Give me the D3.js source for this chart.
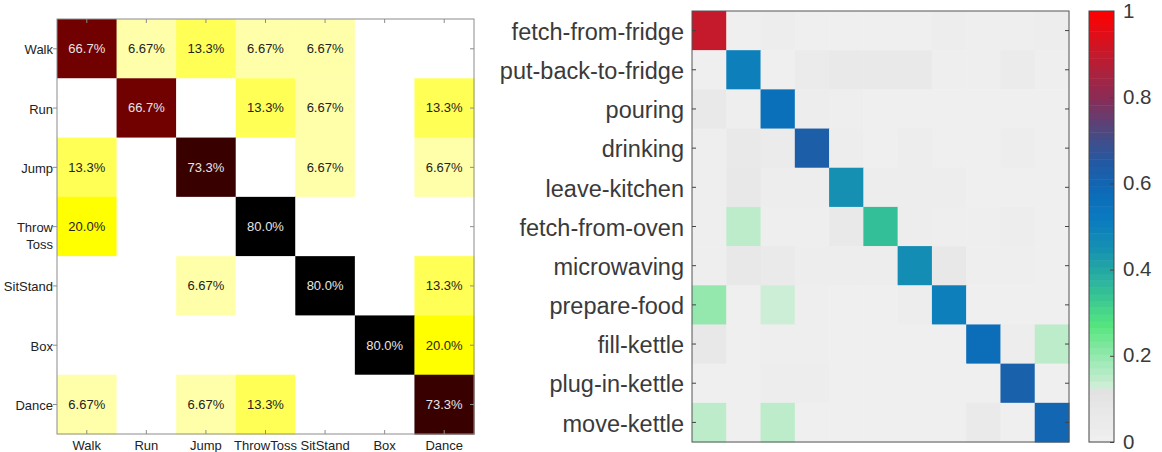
<!DOCTYPE html>
<html>
<head>
<meta charset="utf-8">
<script src="https://cdn.jsdelivr.net/npm/d3@7"></script>
<style>
  body { margin: 0; background: #fff; }
  svg { display: block; font-family: "Liberation Sans", Arial, Helvetica, sans-serif; }
</style>
</head>
<body>
<svg id="chart" width="1162" height="452"></svg>
<script>
// ---- left matrix data (percent) ----
const leftClasses = ['Walk', 'Run', 'Jump', 'ThrowToss', 'SitStand', 'Box', 'Dance'];
const leftRowLabels = [['Walk'], ['Run'], ['Jump'], ['Throw', 'Toss'], ['SitStand'], ['Box'], ['Dance']];
const leftWalk = [66.7, 6.67, 13.3, 6.67, 6.67, 0, 0];
const leftRun = [0, 66.7, 0, 13.3, 6.67, 0, 13.3];
const leftJump = [13.3, 0, 73.3, 0, 6.67, 0, 6.67];
const leftThrow = [20.0, 0, 0, 80.0, 0, 0, 0];
const leftSit = [0, 0, 6.67, 0, 80.0, 0, 13.3];
const leftBox = [0, 0, 0, 0, 0, 80.0, 20.0];
const leftDance = [6.67, 0, 6.67, 13.3, 0, 0, 73.3];
const leftRows = [leftWalk, leftRun, leftJump, leftThrow, leftSit, leftBox, leftDance];

// ---- right matrix data (fraction) ----
const rightClasses = ['fetch-from-fridge', 'put-back-to-fridge', 'pouring', 'drinking', 'leave-kitchen',
  'fetch-from-oven', 'microwaving', 'prepare-food', 'fill-kettle', 'plug-in-kettle', 'move-kettle'];
const rFetchFridge = [0.90, 0.01, 0.03, 0.01, 0.01, 0.01, 0.01, 0.03, 0.02, 0.02, 0.03];
const rPutBack = [0.01, 0.50, 0.01, 0.04, 0.06, 0.06, 0.06, 0.02, 0.02, 0.04, 0.02];
const rPouring = [0.06, 0.02, 0.56, 0.03, 0.02, 0.01, 0.01, 0.01, 0.01, 0.01, 0.01];
const rDrinking = [0.02, 0.06, 0.04, 0.63, 0.03, 0.01, 0.03, 0.01, 0.01, 0.03, 0.01];
const rLeave = [0.02, 0.07, 0.03, 0.03, 0.45, 0.03, 0.03, 0.03, 0.01, 0.01, 0.01];
const rFetchOven = [0.02, 0.15, 0.02, 0.02, 0.06, 0.35, 0.03, 0.02, 0.02, 0.03, 0.01];
const rMicro = [0.02, 0.07, 0.05, 0.03, 0.03, 0.03, 0.46, 0.07, 0.02, 0.02, 0.01];
const rPrepare = [0.20, 0.01, 0.13, 0.02, 0.01, 0.01, 0.03, 0.50, 0.01, 0.01, 0.01];
const rFill = [0.07, 0.01, 0.02, 0.02, 0.01, 0.01, 0.01, 0.01, 0.57, 0.03, 0.15];
const rPlug = [0.01, 0.01, 0.03, 0.03, 0.01, 0.01, 0.01, 0.01, 0.01, 0.62, 0.01];
const rMove = [0.15, 0.01, 0.15, 0.01, 0.01, 0.01, 0.01, 0.01, 0.05, 0.01, 0.60];
const rightRows = [rFetchFridge, rPutBack, rPouring, rDrinking, rLeave, rFetchOven, rMicro, rPrepare, rFill, rPlug, rMove];
const colorbarTicks = [0, 0.2, 0.4, 0.6, 0.8, 1];

const svg = d3.select('#chart');

// ================= left: reversed "hot" colormap, clim [0, 80] =================
const L = { x0: 57, y0: 19, x1: 474, y1: 434 };
const lx = d3.scaleBand().domain(d3.range(7)).range([L.x0, L.x1]);
const ly = d3.scaleBand().domain(d3.range(7)).range([L.y0, L.y1]);
const hotT = d3.scaleLinear().domain([0, 80]).range([1, 0]).clamp(true);
const hot = d3.scaleLinear()
  .domain([0, 0.375, 0.75, 1])
  .range(['#000000', '#ff0000', '#ffff00', '#ffffff']);
const pct = d3.format('.3r');

const leftCells = [];
leftRows.forEach((row, i) => row.forEach((v, j) => leftCells.push({ i, j, v })));

const lg = svg.append('g');
lg.selectAll('rect.cell')
  .data(leftCells)
  .enter()
  .append('rect')
  .attr('class', 'cell')
  .attr('x', d => lx(d.j))
  .attr('y', d => ly(d.i))
  .attr('width', lx.bandwidth() + 0.5)
  .attr('height', ly.bandwidth() + 0.5)
  .attr('fill', d => hot(hotT(d.v)));

lg.selectAll('text.val')
  .data(leftCells.filter(d => d.v > 0))
  .enter()
  .append('text')
  .attr('class', 'val')
  .attr('x', d => lx(d.j) + lx.bandwidth() / 2)
  .attr('y', d => ly(d.i) + ly.bandwidth() / 2)
  .attr('dy', '0.35em')
  .attr('text-anchor', 'middle')
  .style('font-size', '13px')
  .attr('fill', d => d.v > 40 ? '#e6e6e6' : '#222')
  .text(d => pct(d.v) + '%');

// box + ticks
lg.append('rect')
  .attr('x', L.x0).attr('y', L.y0)
  .attr('width', L.x1 - L.x0).attr('height', L.y1 - L.y0)
  .attr('fill', 'none').attr('stroke', '#8c8c8c');
const half = lx.bandwidth() / 2;
d3.range(7).forEach(k => {
  const cx = lx(k) + half, cy = ly(k) + half;
  lg.append('line').attr('x1', cx).attr('x2', cx).attr('y1', L.y0).attr('y2', L.y0 + 4).attr('stroke', '#8c8c8c');
  lg.append('line').attr('x1', cx).attr('x2', cx).attr('y1', L.y1).attr('y2', L.y1 - 4).attr('stroke', '#8c8c8c');
  lg.append('line').attr('x1', L.x0 - 4).attr('x2', L.x0).attr('y1', cy).attr('y2', cy).attr('stroke', '#8c8c8c');
  lg.append('line').attr('x1', L.x1 - 4).attr('x2', L.x1).attr('y1', cy).attr('y2', cy).attr('stroke', '#8c8c8c');
});

lg.selectAll('text.xlab')
  .data(leftClasses)
  .enter()
  .append('text')
  .attr('x', (d, k) => lx(k) + half)
  .attr('y', 450)
  .attr('text-anchor', 'middle')
  .style('font-size', '13px')
  .attr('fill', '#222')
  .text(d => d);

leftRowLabels.forEach((lines, k) => {
  const t = lg.append('text')
    .attr('text-anchor', 'end')
    .style('font-size', '13px')
    .attr('fill', '#222');
  lines.forEach((s, n) => {
    t.append('tspan')
      .attr('x', L.x0 - 4)
      .attr('y', ly(k) + half + 1 + n * 17)
      .attr('dy', '0.35em')
      .text(s);
  });
});

// ================= right: custom grey/green/blue/red map =================
const R = { x0: 692, y0: 11, x1: 1069, y1: 442 };
const rx = d3.scaleBand().domain(d3.range(11)).range([R.x0, R.x1]);
const ry = d3.scaleBand().domain(d3.range(11)).range([R.y0, R.y1]);
const cmap = d3.scaleLinear()
  .domain([0, 0.12, 0.13, 0.2, 0.27, 0.35, 0.45, 0.52, 0.58, 0.65, 0.72, 0.8, 0.9, 1])
  .range(['#f0f0f0', '#e2e2e2', '#cdeed6', '#94e8ae', '#55e67e', '#33bf97', '#1590b2', '#0a7abf',
    '#0c6bb8', '#2459a2', '#4d4880', '#8a2c55', '#c41a2c', '#ff0000'])
  .clamp(true);

const rightCells = [];
rightRows.forEach((row, i) => row.forEach((v, j) => rightCells.push({ i, j, v })));

const rg = svg.append('g');
rg.selectAll('rect.cell')
  .data(rightCells)
  .enter()
  .append('rect')
  .attr('x', d => rx(d.j))
  .attr('y', d => ry(d.i))
  .attr('width', rx.bandwidth() + 0.5)
  .attr('height', ry.bandwidth() + 0.5)
  .attr('fill', d => cmap(d.v));

rg.append('rect')
  .attr('x', R.x0).attr('y', R.y0)
  .attr('width', R.x1 - R.x0).attr('height', R.y1 - R.y0)
  .attr('fill', 'none').attr('stroke', '#555');
d3.range(11).forEach(k => {
  const cy = ry(k) + ry.bandwidth() / 2;
  rg.append('line').attr('x1', R.x0).attr('x2', R.x0 + 4).attr('y1', cy).attr('y2', cy).attr('stroke', '#444');
  rg.append('line').attr('x1', R.x1 - 4).attr('x2', R.x1).attr('y1', cy).attr('y2', cy).attr('stroke', '#444');
});

rg.selectAll('text.ylab')
  .data(rightClasses)
  .enter()
  .append('text')
  .attr('x', R.x0 - 8)
  .attr('y', (d, k) => ry(k) + ry.bandwidth() / 2 + 1)
  .attr('dy', '0.35em')
  .attr('text-anchor', 'end')
  .style('font-size', '23.5px')
  .attr('fill', '#3a3a3a')
  .text(d => d);

// colorbar
const cb = { x0: 1089, x1: 1114 };
const cy = d3.scaleLinear().domain([0, 1]).range([R.y1, R.y0]);
const steps = d3.range(64).map(k => k / 64);
rg.selectAll('rect.cb')
  .data(steps)
  .enter()
  .append('rect')
  .attr('x', cb.x0)
  .attr('width', cb.x1 - cb.x0)
  .attr('y', d => cy(d + 1 / 64))
  .attr('height', d => cy(d) - cy(d + 1 / 64) + 0.5)
  .attr('fill', d => cmap(d + 0.5 / 64));
rg.append('rect')
  .attr('x', cb.x0).attr('y', R.y0)
  .attr('width', cb.x1 - cb.x0).attr('height', R.y1 - R.y0)
  .attr('fill', 'none').attr('stroke', '#444');

const cbAxis = d3.axisRight(cy)
  .tickValues(colorbarTicks)
  .tickFormat(d3.format('~g'))
  .tickSizeInner(-4)
  .tickSizeOuter(0)
  .tickPadding(9);
const axg = rg.append('g')
  .attr('transform', `translate(${cb.x1},0)`)
  .call(cbAxis);
axg.select('.domain').remove();
axg.selectAll('line').attr('stroke', '#444');
axg.selectAll('text')
  .attr('dy', '0.3em')
  .attr('fill', '#3a3a3a')
  .style('font-size', '20.5px')
  .style('font-family', '"Liberation Sans", Arial, sans-serif');
</script>
</body>
</html>
